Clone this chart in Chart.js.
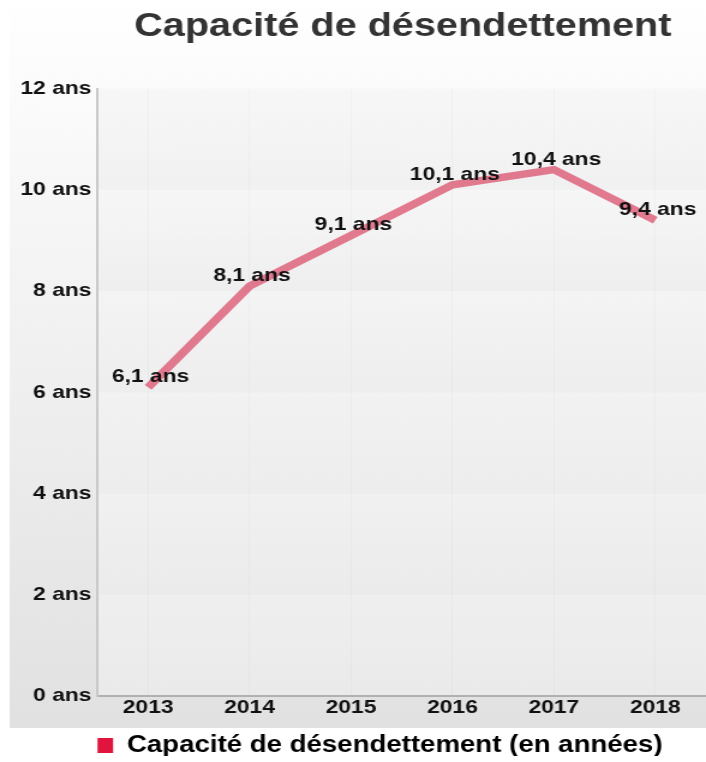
<!DOCTYPE html>
<html>
<head>
<meta charset="utf-8">
<script src="https://cdn.jsdelivr.net/npm/chart.js@4"></script>
<style>
  body { margin: 0; background: #fff; }
  /* le graphique d'origine est étiré horizontalement : on dessine sur 588px et on affiche sur 706px */
  #chart { width: 706px; height: 762px; display: block; }
</style>
</head>
<body>
<canvas id="chart" width="588" height="762" style="width:706px;height:762px"></canvas>
<script>
// données
const annees = ['2013', '2014', '2015', '2016', '2017', '2018'];
const capacite = [6.1, 8.1, 9.1, 10.1, 10.4, 9.4];
const libelleSerie = 'Capacité de désendettement (en années)';
const titre = 'Capacité de désendettement';

const police = "'Liberation Sans', Arial, sans-serif";

function gris(n) {
  n = Math.round(n);
  return `rgb(${n},${n},${n})`;
}

// fond gris dégradé + bandes dans la zone du graphique
const fond = {
  id: 'fond',
  beforeDraw(chart) {
    const c = chart.ctx;
    const a = chart.chartArea;
    c.save();
    let g = c.createLinearGradient(0, 0, 0, 728);
    g.addColorStop(0, '#ffffff');
    g.addColorStop(1, '#e1e1e1');
    c.fillStyle = g;
    c.fillRect(8, 0, 580, 728);

    const y = chart.scales.y;
    for (let v = 0; v < 12; v += 2) {
      const top = y.getPixelForValue(v + 2);
      const bot = y.getPixelForValue(v);
      const b = c.createLinearGradient(0, top, 0, bot);
      const k = v / 12;
      b.addColorStop(0, gris(249 - (1 - k) * 10));
      b.addColorStop(1, gris(242 - (1 - k) * 8));
      c.fillStyle = b;
      c.fillRect(a.left, top, a.right - a.left, bot - top);
    }
    c.restore();
  },
  // recentrer titre et légende comme sur l'original
  afterLayout(chart) {
    chart.titleBlock.left += 71;
    chart.legend.left += 33;
    chart.legend.top += 11;
  }
};

// étiquettes des valeurs
const etiquettes = {
  id: 'etiquettes',
  afterDatasetsDraw(chart) {
    const c = chart.ctx;
    const meta = chart.getDatasetMeta(0);
    c.save();
    c.font = `bold 19px ${police}`;
    c.fillStyle = '#111';
    c.textAlign = 'center';
    c.textBaseline = 'alphabetic';
    meta.data.forEach((pt, i) => {
      const txt = capacite[i].toString().replace('.', ',') + ' ans';
      c.fillText(txt, pt.x + 2, pt.y - 5);
    });
    c.restore();
  }
};

new Chart(document.getElementById('chart'), {
  type: 'line',
  data: {
    labels: annees,
    datasets: [{
      label: libelleSerie,
      data: capacite,
      borderColor: 'rgba(222, 100, 125, 0.85)',
      backgroundColor: '#e0143c',
      borderWidth: 7.5,
      pointRadius: 0,
      tension: 0
    }]
  },
  options: {
    responsive: false,
    animation: false,
    devicePixelRatio: 1,
    layout: { padding: { left: 12, right: 0, top: 0, bottom: 6 } },
    plugins: {
      title: {
        display: true,
        text: titre,
        color: '#333',
        font: { family: police, size: 33, weight: 'bold' },
        padding: { top: 7, bottom: 42 }
      },
      legend: {
        position: 'bottom',
        labels: {
          color: '#111',
          font: { family: police, size: 23, weight: 'bold' },
          boxWidth: 13,
          boxHeight: 15,
          padding: 4,
          generateLabels() {
            return [{
              text: libelleSerie,
              fillStyle: '#e0143c',
              strokeStyle: '#e0143c',
              lineWidth: 0,
              datasetIndex: 0
            }];
          }
        }
      },
      tooltip: { enabled: false }
    },
    scales: {
      x: {
        offset: true,
        grid: { display: true, color: 'rgba(0,0,0,0.02)', drawTicks: false, offset: false },
        border: { color: '#b0b0b0', width: 2 },
        ticks: { color: '#111', font: { family: police, size: 19, weight: 'bold' }, padding: 0 }
      },
      y: {
        min: 0,
        max: 12,
        grid: { display: false, drawTicks: false },
        border: { color: '#c8c8c8', width: 2 },
        ticks: {
          stepSize: 2,
          color: '#111',
          font: { family: police, size: 19, weight: 'bold' },
          padding: 5,
          callback: v => v + ' ans'
        }
      }
    }
  },
  plugins: [fond, etiquettes]
});
</script>
</body>
</html>
